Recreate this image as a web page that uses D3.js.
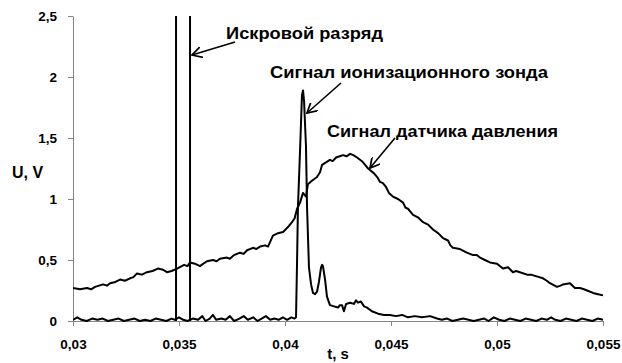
<!DOCTYPE html>
<html>
<head>
<meta charset="utf-8">
<script src="https://cdn.jsdelivr.net/npm/d3@7"></script>
<style>
  body { margin: 0; background: #fff; }
  svg { display: block; font-family: "Liberation Sans", Arial, sans-serif; }
  .axis path, .axis line { stroke: #868686; }
  .axis text { font-size: 13.5px; font-weight: bold; fill: #000; }
  .ann { font-size: 17px; font-weight: bold; }
</style>
</head>
<body>
<svg id="chart" width="622" height="363"></svg>
<script>
// spark discharge moments, s
var sparkTimes = [0.03486, 0.03552];

// pressure sensor signal: [t, U]
var pressure = [
  [0.03000,0.27],[0.03033,0.26],[0.03066,0.27],[0.03085,0.26],[0.03104,0.28],[0.03142,0.30],[0.03160,0.29],
  [0.03175,0.31],[0.03200,0.32],[0.03222,0.34],[0.03245,0.33],[0.03269,0.35],[0.03285,0.36],[0.03302,0.39],
  [0.03325,0.38],[0.03349,0.40],[0.03375,0.41],[0.03401,0.43],[0.03425,0.42],[0.03443,0.40],[0.03465,0.41],
  [0.03491,0.43],[0.03524,0.46],[0.03540,0.45],[0.03552,0.48],[0.03575,0.47],[0.03599,0.45],[0.03615,0.47],
  [0.03632,0.49],[0.03660,0.50],[0.03677,0.49],[0.03693,0.51],[0.03726,0.52],[0.03740,0.51],[0.03759,0.54],
  [0.03788,0.56],[0.03805,0.55],[0.03821,0.58],[0.03849,0.60],[0.03865,0.59],[0.03882,0.61],[0.03906,0.62],
  [0.03920,0.61],[0.03943,0.70],[0.03967,0.72],[0.03991,0.73],[0.04014,0.77],[0.04033,0.81],[0.04045,0.84],
  [0.04057,0.92],[0.04071,0.97],[0.04085,1.05],[0.04099,1.02],[0.04108,1.12],[0.04127,1.15],[0.04151,1.18],
  [0.04165,1.22],[0.04175,1.28],[0.04193,1.30],[0.04212,1.32],[0.04225,1.31],[0.04241,1.34],[0.04258,1.35],
  [0.04274,1.36],[0.04290,1.35],[0.04307,1.37],[0.04322,1.36],[0.04340,1.34],[0.04363,1.31],[0.04378,1.28],
  [0.04392,1.25],[0.04420,1.21],[0.04435,1.18],[0.04448,1.14],[0.04462,1.13],[0.04476,1.10],[0.04490,1.05],
  [0.04509,1.02],[0.04533,1.00],[0.04557,0.97],[0.04568,0.93],[0.04580,0.92],[0.04604,0.87],[0.04627,0.85],
  [0.04651,0.81],[0.04675,0.79],[0.04698,0.75],[0.04722,0.72],[0.04745,0.68],[0.04769,0.66],[0.04780,0.62],
  [0.04792,0.60],[0.04825,0.59],[0.04858,0.56],[0.04887,0.54],[0.04905,0.54],[0.04920,0.52],[0.04943,0.50],
  [0.04967,0.48],[0.05000,0.47],[0.05028,0.43],[0.05052,0.44],[0.05075,0.40],[0.05090,0.41],[0.05108,0.40],
  [0.05142,0.38],[0.05160,0.38],[0.05179,0.37],[0.05217,0.35],[0.05235,0.33],[0.05250,0.31],[0.05283,0.28],
  [0.05300,0.29],[0.05311,0.30],[0.05344,0.31],[0.05368,0.27],[0.05392,0.27],[0.05410,0.26],[0.05425,0.25],
  [0.05453,0.23],[0.05477,0.22],[0.05500,0.21]
];

// ionization probe signal: [t, U]
var probe = [
  [0.03000,0.01],[0.03020,0.03],[0.03040,0.01],[0.03065,0.00],[0.03090,0.02],[0.03115,0.01],[0.03140,0.02],
  [0.03165,0.00],[0.03190,0.01],[0.03215,0.02],[0.03240,0.00],[0.03265,0.01],[0.03290,0.02],[0.03315,0.00],
  [0.03340,0.01],[0.03365,0.00],[0.03390,0.02],[0.03415,0.01],[0.03440,0.00],[0.03465,0.02],[0.03480,0.01],
  [0.03500,0.03],[0.03520,0.01],[0.03540,0.00],[0.03565,0.02],[0.03590,0.01],[0.03610,0.04],[0.03625,0.00],
  [0.03645,0.02],[0.03660,0.05],[0.03675,0.01],[0.03700,0.02],[0.03720,0.01],[0.03740,0.04],[0.03760,0.00],
  [0.03785,0.02],[0.03805,0.04],[0.03825,0.01],[0.03850,0.03],[0.03870,0.00],[0.03890,0.02],[0.03910,0.04],
  [0.03930,0.01],[0.03950,0.02],[0.03970,0.01],[0.03990,0.03],[0.04010,0.01],[0.04030,0.03],[0.04045,0.02],
  [0.04052,0.03],[0.04057,0.50],[0.04061,0.93],[0.04071,1.40],[0.04080,1.85],[0.04085,1.89],[0.04090,1.80],
  [0.04099,1.43],[0.04104,0.93],[0.04113,0.44],[0.04123,0.30],[0.04132,0.23],[0.04142,0.22],[0.04151,0.24],
  [0.04160,0.32],[0.04170,0.44],[0.04175,0.46],[0.04179,0.45],[0.04189,0.34],[0.04198,0.20],[0.04212,0.13],
  [0.04231,0.12],[0.04250,0.11],[0.04259,0.13],[0.04269,0.13],[0.04278,0.08],[0.04288,0.14],[0.04307,0.15],
  [0.04325,0.14],[0.04335,0.17],[0.04344,0.15],[0.04358,0.16],[0.04373,0.12],[0.04387,0.11],[0.04410,0.08],
  [0.04439,0.06],[0.04467,0.05],[0.04495,0.05],[0.04524,0.04],[0.04552,0.05],[0.04580,0.03],[0.04613,0.04],
  [0.04646,0.03],[0.04684,0.04],[0.04717,0.02],[0.04740,0.01],[0.04765,0.02],[0.04790,0.00],[0.04815,0.01],
  [0.04840,0.02],[0.04865,0.01],[0.04890,0.00],[0.04915,0.01],[0.04940,0.02],[0.04960,0.00],[0.04985,0.03],
  [0.05010,0.01],[0.05035,0.00],[0.05060,0.02],[0.05085,0.01],[0.05110,0.00],[0.05135,0.02],[0.05160,0.01],
  [0.05185,0.00],[0.05210,0.02],[0.05235,0.01],[0.05255,0.03],[0.05275,0.01],[0.05300,0.00],[0.05325,0.02],
  [0.05350,0.01],[0.05375,0.00],[0.05400,0.02],[0.05425,0.01],[0.05450,0.00],[0.05475,0.02],[0.05500,0.01]
];

var xTicks = [0.03, 0.035, 0.04, 0.045, 0.05, 0.055];
var yTicks = [0, 0.5, 1, 1.5, 2, 2.5];

var svg = d3.select("#chart");
var x = d3.scaleLinear().domain([0.03, 0.055]).range([73, 603]);
var y = d3.scaleLinear().domain([0, 2.5]).range([321, 16]);
var comma = function(d) { return String(d).replace(".", ","); };

svg.append("defs").append("clipPath").attr("id", "plot")
  .append("rect").attr("x", 73).attr("y", 16).attr("width", 531).attr("height", 306);

svg.append("g").attr("class", "axis")
  .attr("transform", "translate(0," + y(0) + ")")
  .call(d3.axisBottom(x).tickValues(xTicks).tickFormat(comma).tickSize(5).tickSizeOuter(0))
  .selectAll("text").attr("dy", "1.45em");

svg.append("g").attr("class", "axis")
  .attr("transform", "translate(" + x(0.03) + ",0)")
  .call(d3.axisLeft(y).tickValues(yTicks).tickFormat(comma).tickSize(5).tickSizeOuter(0))
  .selectAll("text").attr("dx", "-0.6em");

var line = d3.line().x(function(d) { return x(d[0]); }).y(function(d) { return y(d[1]); });
var plot = svg.append("g").attr("clip-path", "url(#plot)");

plot.selectAll(".spark").data(sparkTimes).enter().append("line")
  .attr("x1", function(d) { return x(d); }).attr("x2", function(d) { return x(d); })
  .attr("y1", y(0)).attr("y2", y(2.6))
  .attr("stroke", "#000").attr("stroke-width", 2);

plot.append("path").datum(pressure).attr("d", line)
  .attr("fill", "none").attr("stroke", "#000").attr("stroke-width", 2).attr("stroke-linejoin", "round");
plot.append("path").datum(probe).attr("d", line)
  .attr("fill", "none").attr("stroke", "#000").attr("stroke-width", 2).attr("stroke-linejoin", "round");

// axis titles
svg.append("text").attr("x", 12).attr("y", 178).style("font-size", "16px").style("font-weight", "bold").text("U, V");
svg.append("text").attr("x", 338).attr("y", 359).attr("text-anchor", "middle")
  .style("font-size", "15px").style("font-weight", "bold").text("t, s");

// annotations with arrows
svg.append("defs").append("marker").attr("id", "arr")
  .attr("viewBox", "0 0 10 10").attr("refX", 9).attr("refY", 5)
  .attr("markerWidth", 11).attr("markerHeight", 11).attr("markerUnits", "userSpaceOnUse")
  .attr("orient", "auto")
  .append("path").attr("d", "M0,0 L9,5 L0,10").attr("fill", "none").attr("stroke", "#000").attr("stroke-width", 1.6);

var notes = [
  {text: "Искровой разряд", x: 226, y: 39, w: 157, from: [235, 42], to: [192, 55]},
  {text: "Сигнал ионизационного зонда", x: 270, y: 78, w: 278, from: [341, 83], to: [307, 113]},
  {text: "Сигнал датчика давления", x: 327, y: 137, w: 231, from: [395, 138], to: [370, 168]}
];
notes.forEach(function(n) {
  svg.append("text").attr("class", "ann").attr("x", n.x).attr("y", n.y)
    .attr("textLength", n.w).attr("lengthAdjust", "spacingAndGlyphs").text(n.text);
  svg.append("line").attr("x1", n.from[0]).attr("y1", n.from[1]).attr("x2", n.to[0]).attr("y2", n.to[1])
    .attr("stroke", "#000").attr("stroke-width", 1.6).attr("marker-end", "url(#arr)");
});
</script>
</body>
</html>
